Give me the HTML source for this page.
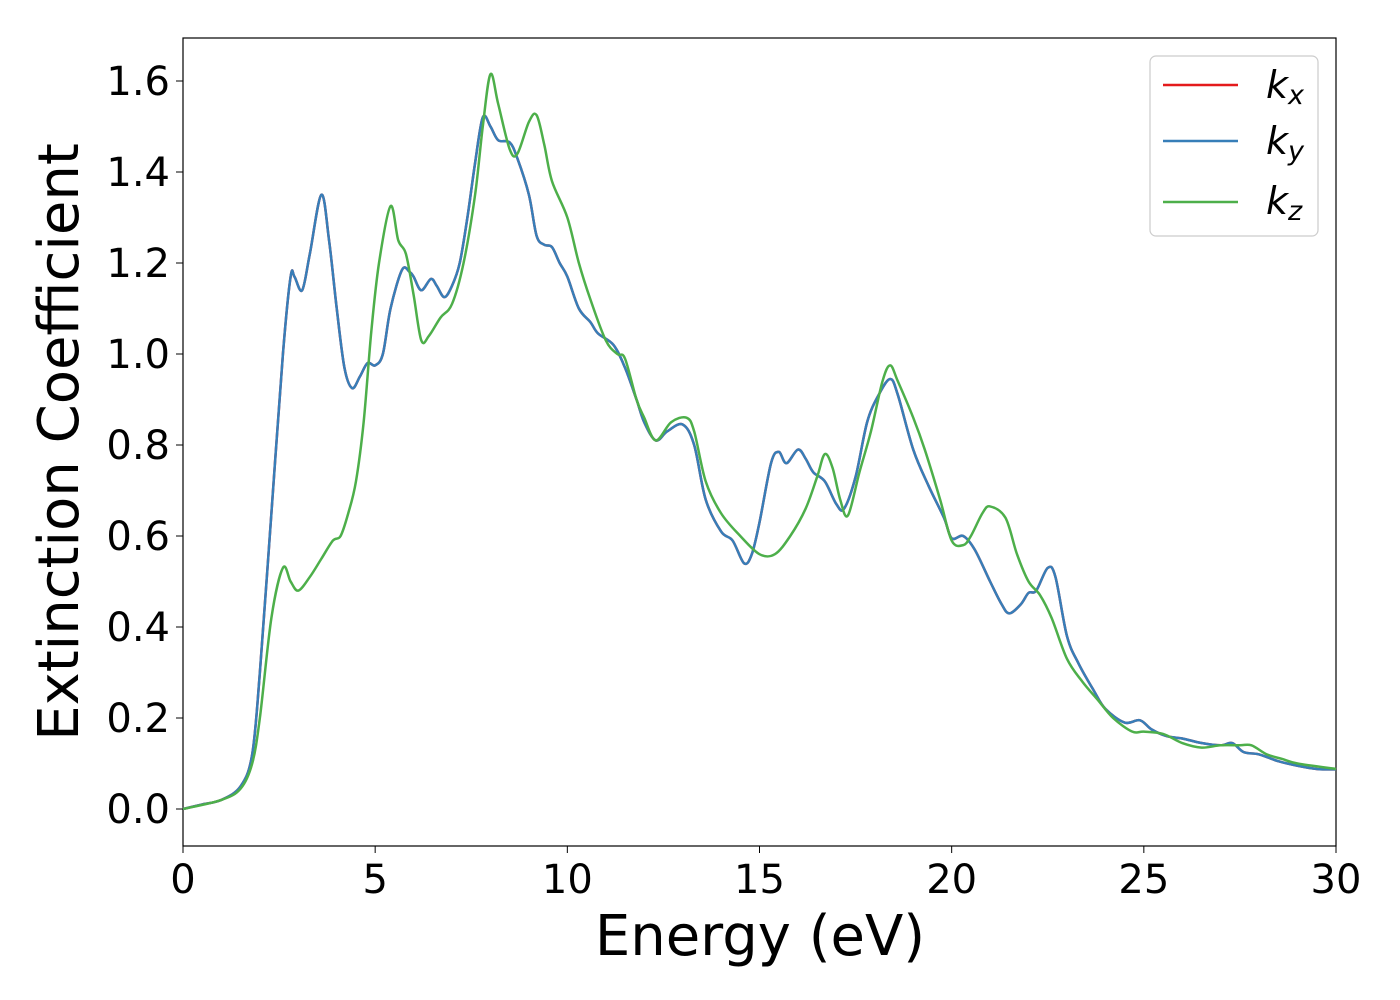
<!DOCTYPE html>
<html><head><meta charset="utf-8"><style>
html,body{margin:0;padding:0;background:#fff}
svg{display:block;font-family:"DejaVu Sans","Liberation Sans",sans-serif}
</style></head><body>
<svg id="chart" width="1400" height="1000">
<rect x="183" y="38" width="1153" height="808" fill="#fff" stroke="#000" stroke-width="1.2"/>
<g id="ticks"></g>
<g id="series"></g>
<text x="760" y="955" font-size="56" text-anchor="middle">Energy (eV)</text>
<text transform="translate(78,442) rotate(-90)" font-size="56" text-anchor="middle">Extinction Coefficient</text>
<g>
<rect x="1150" y="56" width="168" height="180" rx="6" fill="#fff" stroke="#ccc" stroke-width="1.2"/>
<line x1="1163" y1="85" x2="1238" y2="85" stroke="#e41a1c" stroke-width="2.5"/>
<text x="1266" y="98" font-size="38" font-style="italic">k<tspan font-size="27" dy="6">x</tspan></text>
<line x1="1163" y1="141" x2="1238" y2="141" stroke="#377eb8" stroke-width="2.5"/>
<text x="1266" y="154" font-size="38" font-style="italic">k<tspan font-size="27" dy="6">y</tspan></text>
<line x1="1163" y1="202" x2="1238" y2="202" stroke="#4daf4a" stroke-width="2.5"/>
<text x="1266" y="214" font-size="38" font-style="italic">k<tspan font-size="27" dy="6">z</tspan></text>
</g>
</svg>
<script>
const xTicks=[0,5,10,15,20,25,30];
const yTicks=[0.0,0.2,0.4,0.6,0.8,1.0,1.2,1.4,1.6];
const energyXY=[0,0.5,1,1.5,1.8,2,2.3,2.6,2.8,2.9,3.1,3.3,3.6,3.8,4.0,4.2,4.4,4.6,4.8,5.0,5.2,5.4,5.7,5.9,6.0,6.2,6.45,6.6,6.8,7.0,7.2,7.4,7.6,7.8,8.0,8.2,8.5,8.7,9.0,9.2,9.4,9.6,9.8,10.0,10.3,10.6,10.8,11.2,11.5,11.8,12.0,12.3,12.6,13.0,13.3,13.6,14.0,14.3,14.6,14.8,15.0,15.3,15.5,15.7,16.0,16.2,16.4,16.7,17.0,17.2,17.5,17.8,18.1,18.4,18.6,19.0,19.4,19.8,20.0,20.3,20.6,21.0,21.3,21.5,21.8,22.0,22.2,22.5,22.7,23.0,23.3,23.7,24.0,24.5,24.9,25.2,25.6,26,26.5,27.0,27.3,27.6,28,28.5,29,29.5,30];
const kxy=[0,0.01,0.02,0.05,0.12,0.3,0.65,1.0,1.17,1.17,1.14,1.22,1.35,1.25,1.1,0.97,0.925,0.95,0.98,0.975,1.0,1.1,1.185,1.18,1.17,1.14,1.165,1.15,1.125,1.15,1.2,1.3,1.42,1.52,1.5,1.47,1.465,1.43,1.35,1.26,1.24,1.235,1.2,1.17,1.1,1.07,1.045,1.02,0.97,0.9,0.85,0.81,0.83,0.845,0.8,0.68,0.61,0.59,0.54,0.56,0.63,0.76,0.785,0.76,0.79,0.77,0.74,0.72,0.67,0.66,0.73,0.85,0.91,0.945,0.91,0.79,0.71,0.64,0.595,0.6,0.57,0.5,0.45,0.43,0.45,0.475,0.48,0.53,0.51,0.38,0.32,0.26,0.22,0.19,0.195,0.175,0.16,0.155,0.145,0.14,0.145,0.125,0.12,0.105,0.095,0.088,0.087];
const energyZ=[0,1,1.5,1.8,2.0,2.3,2.6,2.8,3.0,3.3,3.6,3.9,4.1,4.3,4.5,4.7,4.9,5.1,5.4,5.6,5.8,6.0,6.2,6.4,6.7,7.0,7.3,7.6,7.8,8.0,8.2,8.5,8.7,9.0,9.2,9.4,9.6,10.0,10.3,10.6,11.0,11.3,11.5,11.8,12.0,12.3,12.7,13.1,13.3,13.6,14.0,14.5,15.0,15.4,15.8,16.2,16.5,16.7,16.9,17.1,17.3,17.6,17.9,18.2,18.4,18.6,19.0,19.3,19.7,20.0,20.3,20.5,20.8,21.0,21.4,21.7,22.0,22.3,22.6,23.0,23.4,23.8,24.2,24.7,25.0,25.5,26,26.5,27,27.5,27.8,28.2,28.6,29,30];
const kz=[0,0.02,0.045,0.1,0.2,0.42,0.53,0.5,0.48,0.51,0.55,0.59,0.6,0.65,0.72,0.85,1.05,1.2,1.325,1.25,1.22,1.13,1.03,1.04,1.08,1.11,1.2,1.35,1.5,1.615,1.55,1.45,1.44,1.51,1.525,1.46,1.38,1.3,1.2,1.12,1.03,1.0,0.99,0.9,0.86,0.81,0.85,0.86,0.83,0.72,0.65,0.6,0.56,0.56,0.6,0.66,0.73,0.78,0.75,0.68,0.645,0.74,0.83,0.94,0.975,0.94,0.86,0.79,0.68,0.59,0.58,0.6,0.65,0.665,0.64,0.56,0.5,0.47,0.42,0.33,0.28,0.24,0.2,0.17,0.17,0.165,0.145,0.135,0.14,0.14,0.14,0.12,0.11,0.1,0.088];
const NS='http://www.w3.org/2000/svg';
const X=v=>183+v*(1153/30);
const Y=v=>809-v*455;
const tg=document.getElementById('ticks');
xTicks.forEach(t=>{
  const l=document.createElementNS(NS,'line');
  l.setAttribute('x1',X(t));l.setAttribute('x2',X(t));l.setAttribute('y1',846);l.setAttribute('y2',853);l.setAttribute('stroke','#000');
  
  
  tg.appendChild(l);
  const s=document.createElementNS(NS,'text');
  s.setAttribute('x',X(t));s.setAttribute('y',893);s.setAttribute('font-size','40');s.setAttribute('text-anchor','middle');
  s.textContent=t;
  
  
  tg.appendChild(s);
});
yTicks.forEach(t=>{
  const l=document.createElementNS(NS,'line');
  l.setAttribute('x1',176);l.setAttribute('x2',183);l.setAttribute('y1',Y(t));l.setAttribute('y2',Y(t));l.setAttribute('stroke','#000');
  
  
  tg.appendChild(l);
  const s=document.createElementNS(NS,'text');
  s.setAttribute('x',170);s.setAttribute('y',Y(t)+14);s.setAttribute('font-size','40');s.setAttribute('text-anchor','end');
  s.textContent=t.toFixed(1);
  
  
  tg.appendChild(s);
});
function smooth(xs,ys){
  const p=xs.map((x,i)=>[X(x),Y(ys[i])]);
  let d='M'+p[0][0]+','+p[0][1];
  for(let i=0;i<p.length-1;i++){
    const p0=p[i-1]||p[i],p1=p[i],p2=p[i+1],p3=p[i+2]||p2;
    const c1=[p1[0]+(p2[0]-p0[0])/6,p1[1]+(p2[1]-p0[1])/6];
    const c2=[p2[0]-(p3[0]-p1[0])/6,p2[1]-(p3[1]-p1[1])/6];
    d+=' C'+c1.join(',')+' '+c2.join(',')+' '+p2.join(',');
  }
  return d;
}
const sg=document.getElementById('series');
[['#e41a1c',energyXY,kxy,'kx-line'],['#377eb8',energyXY,kxy,'ky-line'],['#4daf4a',energyZ,kz,'kz-line']].forEach(([c,xs,ys,n])=>{
  const p=document.createElementNS(NS,'path');
  p.setAttribute('d',smooth(xs,ys));p.setAttribute('fill','none');p.setAttribute('stroke',c);p.setAttribute('stroke-width','2.5');
  
  
  sg.appendChild(p);
});
</script>
</body></html>
